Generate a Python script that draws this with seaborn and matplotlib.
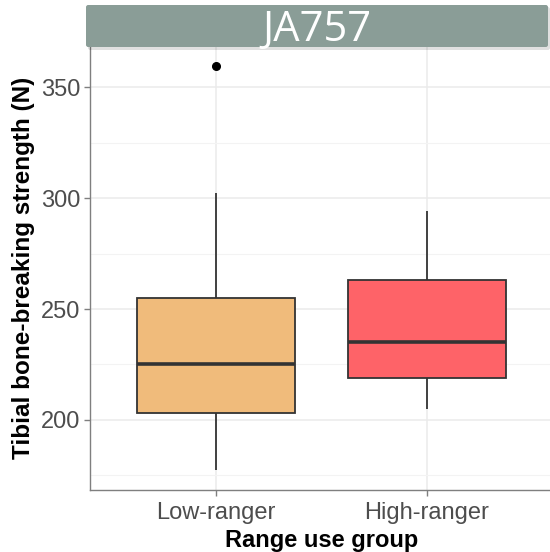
import matplotlib
matplotlib.use("Agg")
import matplotlib.pyplot as plt
import matplotlib.patches as mpatches
import numpy as np
import pandas as pd
import seaborn as sns

# Values chosen so the box statistics match the figure
groups = ["Low-ranger", "High-ranger"]
low_ranger = [177.5, 190.0, 203.2, 215.0, 225.2, 240.0, 255.0, 302.3, 359.5]
high_ranger = [205.0, 212.0, 219.0, 228.0, 235.0, 248.0, 263.0, 280.0, 294.0]
colors = ["#F0BB7B", "#FE6368"]
major_ticks = [200, 250, 300, 350]
minor_ticks = [175, 225, 275, 325]
title = "JA757"

df = pd.DataFrame({
    "group": [groups[0]] * len(low_ranger) + [groups[1]] * len(high_ranger),
    "value": low_ranger + high_ranger,
})

sns.set_theme(style="white")
plt.rcParams["font.family"] = ["Liberation Sans", "DejaVu Sans"]

fig = plt.figure(figsize=(5.5, 5.52), dpi=100)
ax = fig.add_axes([90 / 550, 62 / 552, 463 / 550, 444 / 552])

edge = "#333333"
sns.boxplot(
    data=df, x="group", y="value", hue="group", order=groups,
    palette=dict(zip(groups, colors)), legend=False, width=0.75,
    saturation=1, showcaps=False, linewidth=1.3, ax=ax,
    boxprops=dict(edgecolor=edge, linewidth=1.3),
    whiskerprops=dict(color=edge, linewidth=1.3),
    medianprops=dict(color=edge, linewidth=2.6),
    flierprops=dict(marker="o", markerfacecolor="black",
                    markeredgecolor="black", markersize=5.5),
    zorder=3,
)

ax.set_xlim(-0.6, 1.6)
ax.set_ylim(168.4, 368.6)
ax.set_yticks(major_ticks)
ax.set_yticks(minor_ticks, minor=True)
ax.grid(True, which="major", color="#EBEBEB", linewidth=1.1, zorder=0)
ax.grid(True, which="minor", axis="y", color="#F3F3F3", linewidth=0.8, zorder=0)
ax.set_axisbelow(True)

for side in ("top", "right"):
    ax.spines[side].set_visible(False)
for side in ("left", "bottom"):
    ax.spines[side].set_color("#7F7F7F")
    ax.spines[side].set_linewidth(1.0)

ax.tick_params(axis="both", which="major", length=4, width=1.0,
               color="#7F7F7F", labelcolor="#4D4D4D", labelsize=17,
               left=True, bottom=True, pad=3)
ax.tick_params(axis="x", which="major", pad=5)
ax.tick_params(axis="y", which="minor", length=0)

ax.set_xlabel("Range use group", fontsize=17, fontweight="bold",
              color="black", labelpad=3)
ax.set_ylabel("Tibial bone-breaking strength (N)", fontsize=17.5,
              fontweight="bold", color="black", labelpad=4)

# Title banner with a soft shadow
shadow = mpatches.FancyBboxPatch(
    (88 / 550, (552 - 50) / 552), 462 / 550, 43 / 552,
    boxstyle="round,pad=0,rounding_size=0.004",
    transform=fig.transFigure, facecolor="#000000", alpha=0.12,
    edgecolor="none", zorder=9)
banner = mpatches.FancyBboxPatch(
    (86 / 550, (552 - 47) / 552), 462 / 550, 42 / 552,
    boxstyle="round,pad=0,rounding_size=0.004",
    transform=fig.transFigure, facecolor="#8A9D97", edgecolor="none",
    zorder=10)
fig.patches.extend([shadow, banner])
fig.text(317 / 550, (552 - 30) / 552, title, ha="center", va="center",
         fontsize=30, color="white", family=["Open Sans", "DejaVu Sans"],
         zorder=11)

fig.savefig("out.png", dpi=100)
